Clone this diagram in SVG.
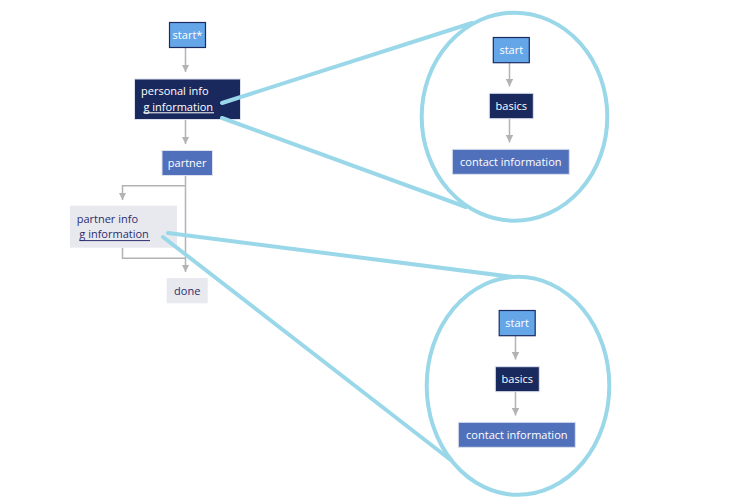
<svg xmlns="http://www.w3.org/2000/svg" width="755" height="499" viewBox="0 0 755 499">
<defs>
<style>
.t{font-family:"Open Sans","Noto Sans","Liberation Sans",sans-serif;font-size:11px}
.w{fill:#ffffff}
.d{fill:#2b2e6e}
.st{fill:#64a6e8;stroke:#1b2b5f;stroke-width:1.2}
.nv{fill:#1a295d;stroke:#dde2ee;stroke-width:1}
.md{fill:#5170bb;stroke:#dde2ee;stroke-width:1}
.lt{fill:#e8e9ef}
.c{fill:none;stroke:#b3b3b3;stroke-width:1.5}
.zoom{fill:none;stroke:#9ad8e9;stroke-width:4;stroke-linecap:round}
</style>
<marker id="ah" viewBox="0 0 8 8" refX="8" refY="4" markerWidth="7.5" markerHeight="7.5" markerUnits="userSpaceOnUse" orient="auto">
<path d="M0,0 L8,4 L0,8 z" fill="#b3b3b3"/>
</marker>
</defs>
<rect width="755" height="499" fill="#ffffff"/>

<g id="connectors">
<line class="c" x1="185.5" y1="47.5" x2="185.5" y2="72" marker-end="url(#ah)"/>
<line class="c" x1="185.5" y1="119.5" x2="185.5" y2="144" marker-end="url(#ah)"/>
<line class="c" x1="185.5" y1="175.5" x2="185.5" y2="272" marker-end="url(#ah)"/>
<polyline class="c" points="185.5,185.8 122.5,185.8 122.5,200" marker-end="url(#ah)"/>
<polyline class="c" points="122.5,248 122.5,258.3 185.5,258.3"/>
<line class="c" x1="509.5" y1="63" x2="509.5" y2="86.5" marker-end="url(#ah)"/>
<line class="c" x1="509.5" y1="119" x2="509.5" y2="142.5" marker-end="url(#ah)"/>
<line class="c" x1="515.5" y1="336" x2="515.5" y2="359.5" marker-end="url(#ah)"/>
<line class="c" x1="515.5" y1="392" x2="515.5" y2="415.5" marker-end="url(#ah)"/>
</g>

<g id="start-main">
<rect class="st" x="169.5" y="22.5" width="36" height="25"/>
<text class="t w" x="187.5" y="38.8" text-anchor="middle">start*</text>
</g>
<g id="personal-info">
<rect class="nv" x="134.5" y="79" width="106" height="40.5"/>
<text class="t w" x="141" y="95">personal info</text>
<text class="t w" x="143.5" y="110.5">g information</text>
<line x1="143.5" y1="112.8" x2="214" y2="112.8" stroke="#ffffff" stroke-width="1"/>
</g>
<g id="partner">
<rect class="md" x="162" y="150.5" width="50.5" height="25"/>
<text class="t w" x="187.2" y="166.7" text-anchor="middle">partner</text>
</g>
<g id="partner-info">
<rect class="lt" x="70" y="205.7" width="107" height="42"/>
<text class="t d" x="76.7" y="222.7">partner info</text>
<text class="t d" x="79.3" y="238.3">g information</text>
<line x1="79.3" y1="240.6" x2="150" y2="240.6" stroke="#2b2e6e" stroke-width="1"/>
</g>
<g id="done">
<rect class="lt" x="166.7" y="278" width="41" height="25.3"/>
<text class="t d" x="187.2" y="294.6" text-anchor="middle">done</text>
</g>

<g id="zoom-personal">
<ellipse class="zoom" cx="514.5" cy="116.7" rx="92.8" ry="104"/>
<line class="zoom" x1="222" y1="103" x2="472" y2="23"/>
<line class="zoom" x1="222" y1="118" x2="466" y2="207"/>
</g>
<g id="zoom-partner">
<ellipse class="zoom" cx="518" cy="385.8" rx="91.3" ry="109"/>
<line class="zoom" x1="168" y1="233" x2="513" y2="277"/>
<line class="zoom" x1="163" y1="237" x2="452" y2="461"/>
</g>

<g id="p-start">
<rect class="st" x="493.3" y="37.5" width="36" height="25.2"/>
<text class="t w" x="511.3" y="53.8" text-anchor="middle">start</text>
</g>
<g id="p-basics">
<rect class="nv" x="489.3" y="93.3" width="44" height="25.4"/>
<text class="t w" x="511.3" y="109.8" text-anchor="middle">basics</text>
</g>
<g id="p-contact">
<rect class="md" x="452.3" y="149.3" width="117" height="25"/>
<text class="t w" x="510.8" y="165.6" text-anchor="middle">contact information</text>
</g>

<g id="q-start">
<rect class="st" x="499.2" y="310.5" width="36" height="25.2"/>
<text class="t w" x="517.2" y="326.8" text-anchor="middle">start</text>
</g>
<g id="q-basics">
<rect class="nv" x="495.3" y="366.7" width="44" height="25"/>
<text class="t w" x="517.3" y="383" text-anchor="middle">basics</text>
</g>
<g id="q-contact">
<rect class="md" x="458.3" y="422.3" width="117" height="25"/>
<text class="t w" x="516.8" y="438.6" text-anchor="middle">contact information</text>
</g>
</svg>
